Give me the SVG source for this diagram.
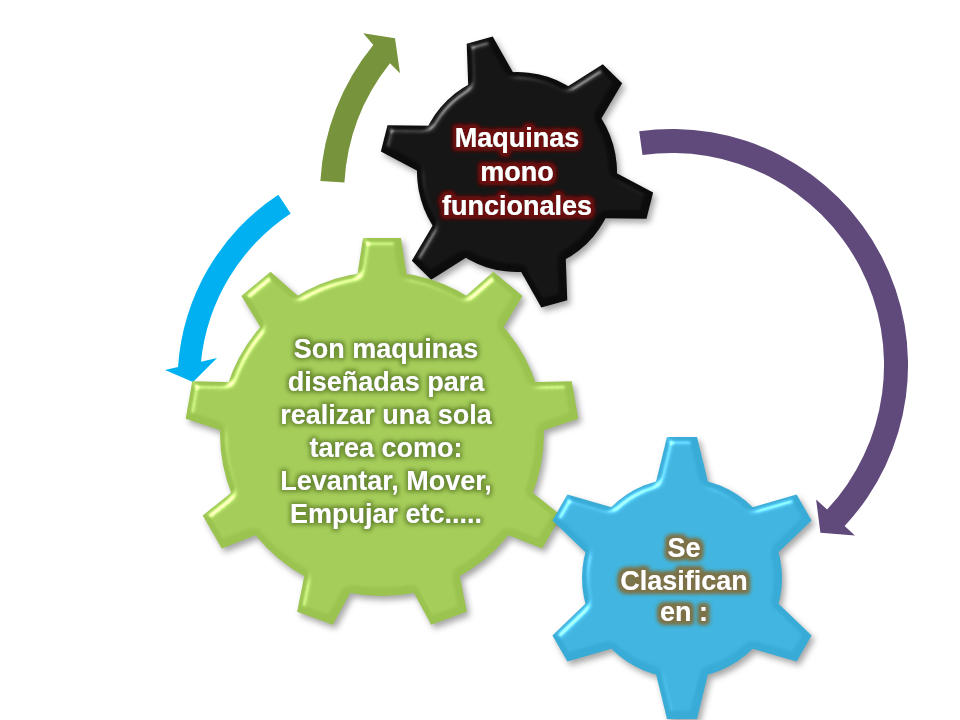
<svg xmlns="http://www.w3.org/2000/svg" xmlns:xlink="http://www.w3.org/1999/xlink" width="960" height="720" viewBox="0 0 960 720">
<defs>
<style>
.lbl { font-family: "Liberation Sans", Arial, sans-serif; font-weight: 700; fill: #ffffff; text-anchor: middle; }
.arrow { stroke: none; }
</style>
<filter id="bevel" x="-15%" y="-15%" width="135%" height="135%" color-interpolation-filters="sRGB">
  <feGaussianBlur in="SourceAlpha" stdDeviation="3.5" result="blur"/>
  <feSpecularLighting in="blur" surfaceScale="5" specularConstant="0.9" specularExponent="28" lighting-color="#ffffff" result="spec">
    <feDistantLight azimuth="230" elevation="42"/>
  </feSpecularLighting>
  <feComposite in="spec" in2="SourceAlpha" operator="in" result="specIn"/>
  <feComposite in="SourceGraphic" in2="specIn" operator="arithmetic" k1="0" k2="1" k3="0.55" k4="0" result="lit"/>
  <feGaussianBlur in="SourceAlpha" stdDeviation="3" result="sb"/>
  <feOffset in="sb" dx="3" dy="4" result="so"/>
  <feFlood flood-color="#000000" flood-opacity="0.35"/>
  <feComposite in2="so" operator="in" result="shadow"/>
  <feMerge><feMergeNode in="shadow"/><feMergeNode in="lit"/></feMerge>
</filter>
<filter id="glowR" x="-20%" y="-20%" width="140%" height="140%">
  <feMorphology in="SourceAlpha" operator="dilate" radius="2.5" result="d"/>
  <feGaussianBlur in="d" stdDeviation="2" result="b"/>
  <feFlood flood-color="#6e1010"/>
  <feComposite in2="b" operator="in" result="g"/>
  <feMerge><feMergeNode in="g"/><feMergeNode in="g"/><feMergeNode in="SourceGraphic"/></feMerge>
</filter>
<filter id="glowG" x="-20%" y="-20%" width="140%" height="140%">
  <feMorphology in="SourceAlpha" operator="dilate" radius="2" result="d"/>
  <feGaussianBlur in="d" stdDeviation="2.2" result="b"/>
  <feFlood flood-color="#6a8c30"/>
  <feComposite in2="b" operator="in" result="g"/>
  <feMerge><feMergeNode in="g"/><feMergeNode in="SourceGraphic"/></feMerge>
</filter>
<filter id="glowB" x="-20%" y="-20%" width="140%" height="140%">
  <feMorphology in="SourceAlpha" operator="dilate" radius="2.5" result="d"/>
  <feGaussianBlur in="d" stdDeviation="2" result="b"/>
  <feFlood flood-color="#7d7246"/>
  <feComposite in2="b" operator="in" result="g"/>
  <feMerge><feMergeNode in="g"/><feMergeNode in="g"/><feMergeNode in="SourceGraphic"/></feMerge>
</filter>
<polygon id="toothK" points="-24,-94 -13.5,-137 13.5,-137 24,-94"/>
<polygon id="toothG" points="-26,-150 -19,-196 19,-196 26,-150"/>
<polygon id="toothB" points="-27,-92 -15,-141 15,-141 27,-92"/>
</defs>

<rect width="960" height="720" fill="#ffffff"/>

<g id="connectors">
  <path id="arrow-green" class="arrow" fill="#77933c" d="M320.4,181.1 A235,235 0 0 1 373.3,45 L363.3,33.3 L395,38.3 L400,73.3 L390,63.3 A211,211 0 0 0 344.4,182.5 Z"/>
  <path id="arrow-blue" class="arrow" fill="#00b0f0" d="M278.3,194.7 A224.5,224.5 0 0 0 178,367 L165,370 L193,382 L217,358 L201,361.7 A202,202 0 0 1 290.7,213.5 Z"/>
  <path id="arrow-purple" class="arrow" fill="#604a7b" d="M639.2,131.3 A236,236 0 0 1 844.6,526 L854.9,535.5 L820.4,532.8 L816.1,499.4 L827.1,509.6 A212,212 0 0 0 642.5,155.1 Z"/>
</g>

<g id="node-black">
  <g filter="url(#bevel)">
    <g fill="#0c0c0c" transform="translate(517,172) rotate(-15.8)">
      <circle r="100"/>
      <use xlink:href="#toothK" href="#toothK"/>
      <use xlink:href="#toothK" href="#toothK" transform="rotate(60)"/>
      <use xlink:href="#toothK" href="#toothK" transform="rotate(120)"/>
      <use xlink:href="#toothK" href="#toothK" transform="rotate(180)"/>
      <use xlink:href="#toothK" href="#toothK" transform="rotate(240)"/>
      <use xlink:href="#toothK" href="#toothK" transform="rotate(300)"/>
    </g>
  </g>
  <text class="lbl" font-size="27" filter="url(#glowR)"><tspan x="517" y="147">Maquinas</tspan><tspan x="517" y="181">mono</tspan><tspan x="517" y="215">funcionales</tspan></text>
</g>

<g id="node-green">
  <g filter="url(#bevel)">
    <g fill="#9bc350" transform="translate(382,434)">
      <circle r="162"/>
      <use xlink:href="#toothG" href="#toothG"/>
      <use xlink:href="#toothG" href="#toothG" transform="rotate(40)"/>
      <use xlink:href="#toothG" href="#toothG" transform="rotate(80)"/>
      <use xlink:href="#toothG" href="#toothG" transform="rotate(120)"/>
      <use xlink:href="#toothG" href="#toothG" transform="rotate(160)"/>
      <use xlink:href="#toothG" href="#toothG" transform="rotate(200)"/>
      <use xlink:href="#toothG" href="#toothG" transform="rotate(240)"/>
      <use xlink:href="#toothG" href="#toothG" transform="rotate(280)"/>
      <use xlink:href="#toothG" href="#toothG" transform="rotate(320)"/>
    </g>
  </g>
  <text class="lbl" font-size="27" filter="url(#glowG)"><tspan x="386" y="358">Son maquinas</tspan><tspan x="386" y="391">diseñadas para</tspan><tspan x="386" y="424">realizar una sola</tspan><tspan x="386" y="457">tarea como:</tspan><tspan x="386" y="490">Levantar, Mover,</tspan><tspan x="386" y="523">Empujar etc.....</tspan></text>
</g>

<g id="node-blue">
  <g filter="url(#bevel)">
    <g fill="#38acd6" transform="translate(682,578)">
      <circle r="100"/>
      <use xlink:href="#toothB" href="#toothB"/>
      <use xlink:href="#toothB" href="#toothB" transform="rotate(60)"/>
      <use xlink:href="#toothB" href="#toothB" transform="rotate(120)"/>
      <use xlink:href="#toothB" href="#toothB" transform="rotate(180)"/>
      <use xlink:href="#toothB" href="#toothB" transform="rotate(240)"/>
      <use xlink:href="#toothB" href="#toothB" transform="rotate(300)"/>
    </g>
  </g>
  <text class="lbl" font-size="27" filter="url(#glowB)"><tspan x="684" y="557">Se</tspan><tspan x="684" y="590">Clasifican</tspan><tspan x="684" y="621">en :</tspan></text>
</g>
</svg>
